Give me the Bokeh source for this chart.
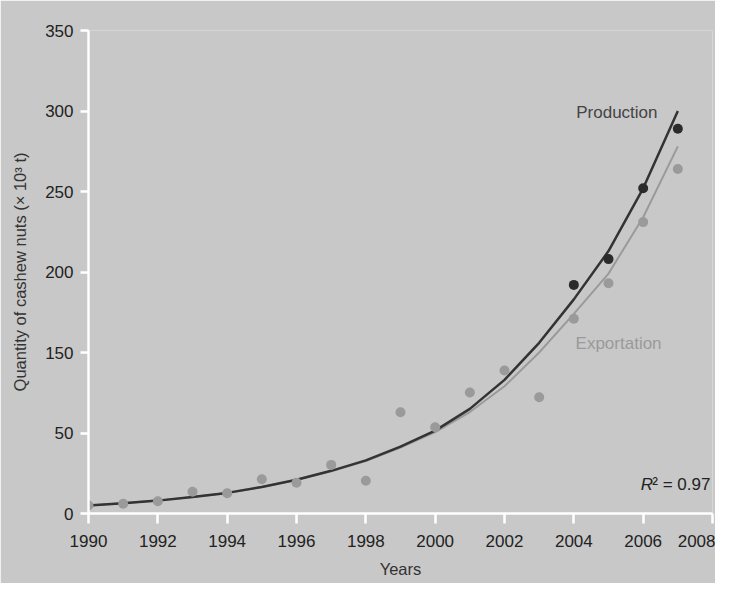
from bokeh.plotting import figure
from bokeh.models import Range1d, FixedTicker, Label
from bokeh.embed import file_html
from bokeh.resources import INLINE

# ---- data (y in axis-position units) ----
years = list(range(1990, 2008))
export_points = [5, 6, 7.6, 13.5, 12.6, 21.3, 19.1, 30.2, 20.3, 62.9,
                 53.6, 75.2, 88.8, 72.2, 121, 143, 181, 214]
prod_years = [2004, 2005, 2006, 2007]
prod_points = [142, 158, 202, 239]
prod_fit = [5, 6.3, 8, 10.2, 12.8, 16.5, 21, 26.5, 33, 41.5,
            51.5, 65, 83, 106, 133, 163, 202, 250]
export_fit = [5, 6.3, 8, 10.2, 12.8, 16.4, 20.8, 26.2, 32.6, 41,
              50.5, 63, 79, 100, 124, 149, 184, 228]
y_ticks = [0, 50, 100, 150, 200, 250, 300]
y_tick_labels = ["0", "50", "150", "200", "250", "300", "350"]
x_ticks = list(range(1990, 2009, 2))

BG = "#c8c8c8"
DARK = "#333333"
LIGHT = "#9a9a9a"
FONT = "Liberation Sans"

p = figure(width=715, height=583, output_backend="svg", toolbar_location=None,
           x_range=Range1d(1990, 2008), y_range=Range1d(0, 300),
           min_border_left=88, min_border_right=3, min_border_top=30,
           min_border_bottom=70)
p.background_fill_color = BG
p.border_fill_color = BG
p.outline_line_color = None
p.grid.visible = False

# lines (fits)
p.line(years, export_fit, line_color=LIGHT, line_width=2)
p.line(years, prod_fit, line_color=DARK, line_width=2.5)
# points
p.scatter(years, export_points, size=10, fill_color=LIGHT, line_color=None)
p.scatter(prod_years, prod_points, size=10, fill_color="#2b2b2b", line_color=None)

# axes
for ax in (p.xaxis[0], p.yaxis[0]):
    ax.axis_line_color = "white"
    ax.axis_line_width = 2.5
    ax.major_tick_line_color = "white"
    ax.major_tick_line_width = 2.5
    ax.major_tick_in = 0
    ax.minor_tick_line_color = None
    ax.major_label_text_font = FONT
    ax.major_label_text_font_size = "17px"
    ax.major_label_text_color = "#222222"
    ax.axis_label_text_font = FONT
    ax.axis_label_text_font_size = "16.5px"
    ax.axis_label_text_font_style = "normal"
    ax.axis_label_text_color = "#333333"

p.xaxis.ticker = FixedTicker(ticks=x_ticks)
p.xaxis.major_tick_out = 10
p.xaxis.major_label_standoff = 11
p.xaxis.axis_label = "Years"
p.xaxis.axis_label_standoff = 10

p.yaxis.ticker = FixedTicker(ticks=y_ticks)
p.yaxis.major_label_overrides = {t: l for t, l in zip(y_ticks, y_tick_labels)}
p.yaxis.major_tick_out = 8
p.yaxis.major_label_standoff = 7
p.yaxis.axis_label = "Quantity of cashew nuts (× 10³ t)"
p.yaxis.axis_label_standoff = 13

# annotations
p.add_layout(Label(x=2004.07, y=249, text="Production", text_font=FONT,
                   text_font_size="17px", text_color="#444444",
                   text_baseline="middle", text_align="left"))
p.add_layout(Label(x=2004.05, y=105.6, text="Exportation", text_font=FONT,
                   text_font_size="17px", text_color="#9a9a9a",
                   text_baseline="middle", text_align="left"))
p.add_layout(Label(x=2005.93, y=18, text="R", text_font=FONT,
                   text_font_size="17px", text_font_style="italic",
                   text_color="#222222", text_baseline="alphabetic",
                   text_align="left"))
p.add_layout(Label(x=2007.94, y=18, text="² = 0.97", text_font=FONT,
                   text_font_size="17px", text_color="#222222",
                   text_baseline="alphabetic", text_align="right"))

open("out.html", "w").write(file_html(p, INLINE))
